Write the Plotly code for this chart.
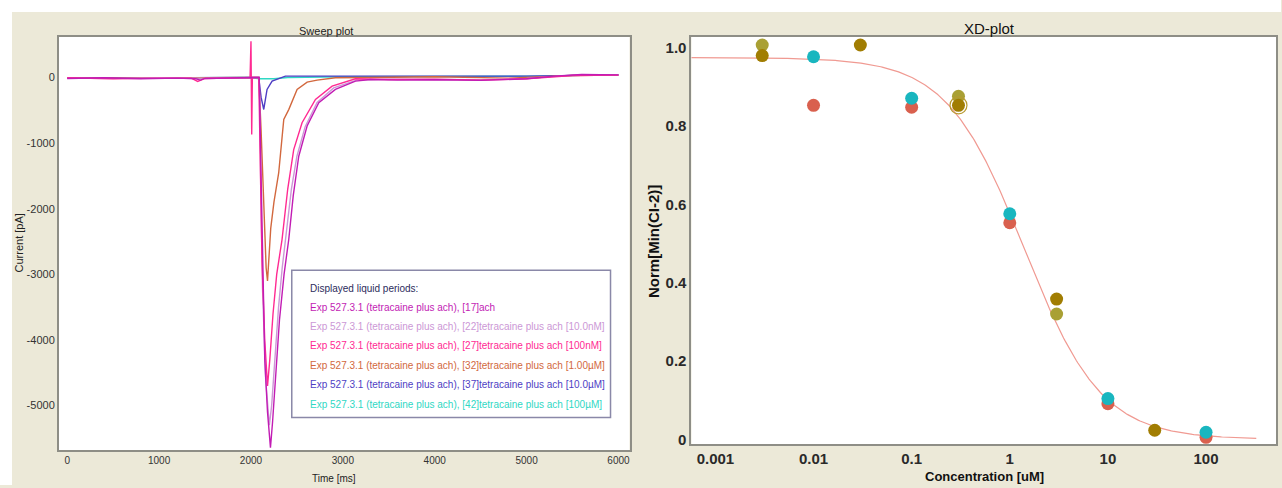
import numpy as np
import plotly.graph_objects as go

W, H = 1282, 488

# ---------------- Sweep plot data ----------------
sweep_labels = [
    "Exp 527.3.1 (tetracaine plus ach), [17]ach",
    "Exp 527.3.1 (tetracaine plus ach), [22]tetracaine plus ach [10.0nM]",
    "Exp 527.3.1 (tetracaine plus ach), [27]tetracaine plus ach [100nM]",
    "Exp 527.3.1 (tetracaine plus ach), [32]tetracaine plus ach [1.00µM]",
    "Exp 527.3.1 (tetracaine plus ach), [37]tetracaine plus ach [10.0µM]",
    "Exp 527.3.1 (tetracaine plus ach), [42]tetracaine plus ach [100µM]",
]
sweep_colors = ["#c21cb4", "#cc98d6", "#ff2a92", "#d2683e", "#4e3ec4", "#2fd8c4"]
legend_title = "Displayed liquid periods:"

t17 = [0, 400, 800, 1200, 1400, 1450, 1500, 1800, 2000, 2090, 2110, 2130, 2150, 2180, 2212,
       2235, 2270, 2310, 2360, 2411, 2460, 2520, 2611, 2738, 2919, 3137, 3300, 3600, 4000,
       4500, 5000, 5300, 5600, 6000]
i17 = [-15, -5, -20, -10, -20, -40, -15, -10, -5, 0, -1500, -3200, -4300, -5100, -5640,
       -5250, -4500, -3700, -3000, -2470, -1800, -1200, -740, -386, -183, -56, -30, -40, -35,
       -45, -20, 20, 45, 40]

t22 = [0, 500, 1000, 1400, 1500, 2000, 2090, 2105, 2125, 2160, 2200, 2225, 2260, 2300, 2340,
       2380, 2440, 2500, 2590, 2720, 2900, 3150, 3500, 4000, 4500, 5000, 5500, 6000]
i22 = [-10, -15, -5, -15, -10, 0, 0, -1500, -3200, -4600, -5300, -5000, -4300, -3500, -2900,
       -2400, -1700, -1200, -750, -380, -160, -40, -25, -30, -35, -15, 35, 40]

t27 = [0, 500, 1000, 1350, 1420, 1500, 1990, 2000, 2008, 2015, 2085, 2100, 2120, 2150, 2180,
       2205, 2240, 2280, 2338, 2400, 2465, 2556, 2702, 2883, 3137, 3500, 4000, 4500, 5000,
       5500, 6000]
i27 = [-5, -20, -10, -10, -60, -15, 0, 550, -870, 0, 0, -1200, -2800, -4000, -4700,
       -4300, -3600, -3000, -2470, -1700, -1100, -690, -335, -132, -20, -30, -25, -40, -20,
       30, 35]

t32 = [0, 500, 1000, 1500, 2000, 2085, 2110, 2140, 2165, 2180, 2200, 2215,
       2250, 2302, 2357, 2411, 2502, 2611, 2720, 2919, 3300, 4000, 4800, 5500, 6000]
i32 = [-10, -10, -15, -5, 0, 0, -800, -2000, -2900, -3100, -2700, -2300,
       -1900, -1450, -640, -490, -183, -71, -41, -5, 0, 10, -10, 30, 35]

t37 = [0, 1000, 2000, 2084, 2110, 2139, 2175, 2230, 2375, 3000, 4000, 5000, 6000]
i37 = [-10, -10, 0, 0, -300, -488, -183, -56, 20, 20, 10, 20, 40]

t42 = [0, 1000, 2000, 2090, 2250, 2400, 3000, 4000, 5000, 6000]
i42 = [-10, -5, 0, -20, -20, 0, 10, 15, 20, 40]

sweep_t = [t17, t22, t27, t32, t37, t42]
sweep_i = [i17, i22, i27, i32, i37, i42]
draw_order = [5, 4, 3, 1, 2, 0]

sweep_xticks = [0, 1000, 2000, 3000, 4000, 5000, 6000]
sweep_yticks = [0, -1000, -2000, -3000, -4000, -5000]

# ---------------- XD plot data ----------------
conc_red = [0.01, 0.1, 1, 10, 100]
norm_red = [0.853, 0.848, 0.553, 0.091, 0.005]
conc_cyan = [0.01, 0.1, 1, 10, 100]
norm_cyan = [0.977, 0.871, 0.576, 0.104, 0.018]
conc_olive = [0.003, 0.3, 3]
norm_olive = [1.007, 0.876, 0.320]
conc_gold = [0.003, 0.03, 0.3, 3, 30]
norm_gold = [0.980, 1.007, 0.853, 0.358, 0.023]
conc_ring = [0.3]
norm_ring = [0.853]

# Hill fit parameters shown by the curve
fit_top, fit_ic50, fit_hill = 0.975, 1.4, 1.1
fit_xmin, fit_xmax = 10 ** -3.25, 325

xd_xticks = [0.001, 0.01, 0.1, 1, 10, 100]
xd_xtext = ["0.001", "0.01", "0.1", "1", "10", "100"]
xd_yticks = [0, 0.2, 0.4, 0.6, 0.8, 1.0]
xd_ytext = ["0", "0.2", "0.4", "0.6", "0.8", "1.0"]

# ---------------- figure ----------------
BEIGE = "#ECE9D8"
BORDER = "#8e8e86"
NARROW = "Liberation Sans Narrow, Arial Narrow, Liberation Sans, sans-serif"
SANS = "Liberation Sans, Arial, sans-serif"


def px(x):
    return x / W


def py(y):
    return 1 - y / H


fig = go.Figure()

for k in draw_order:
    fig.add_trace(go.Scatter(x=sweep_t[k], y=sweep_i[k], mode="lines",
                             line=dict(color=sweep_colors[k], width=1.4),
                             xaxis="x", yaxis="y", showlegend=False, hoverinfo="skip"))

fx = np.logspace(np.log10(fit_xmin), np.log10(fit_xmax), 400)
fy = fit_top / (1 + (fx / fit_ic50) ** fit_hill)
fig.add_trace(go.Scatter(x=fx, y=fy, mode="lines", line=dict(color="#f09a92", width=1.2),
                         xaxis="x2", yaxis="y2", showlegend=False, hoverinfo="skip"))

for cx, cy, col in [(conc_red, norm_red, "#d9604e"),
                    (conc_cyan, norm_cyan, "#19b6bf"),
                    (conc_olive, norm_olive, "#a9a034"),
                    (conc_gold, norm_gold, "#a17d02")]:
    fig.add_trace(go.Scatter(x=cx, y=cy, mode="markers",
                             marker=dict(size=13, color=col, line=dict(width=0)),
                             xaxis="x2", yaxis="y2", showlegend=False, hoverinfo="skip"))
fig.add_trace(go.Scatter(x=conc_ring, y=norm_ring, mode="markers",
                         marker=dict(size=17, color="rgba(0,0,0,0)",
                                     line=dict(width=1.2, color="#b89a30")),
                         xaxis="x2", yaxis="y2", showlegend=False, hoverinfo="skip"))

axis_common = dict(showgrid=False, zeroline=False, showline=True, mirror=True,
                   linecolor=BORDER, linewidth=2, ticks="")

fig.update_layout(
    width=W, height=H, margin=dict(l=0, r=0, t=0, b=0),
    paper_bgcolor=BEIGE, plot_bgcolor="white",
    xaxis=dict(domain=[px(59), px(630)], anchor="y", range=[-90, 6120],
               tickvals=sweep_xticks, ticktext=[str(v) for v in sweep_xticks],
               tickfont=dict(family=NARROW, size=10, color="#333"), **axis_common),
    yaxis=dict(domain=[py(453), py(37)], anchor="x", range=[-5680, 620],
               tickvals=sweep_yticks, ticktext=[str(v) for v in sweep_yticks],
               tickfont=dict(family=NARROW, size=11, color="#333"), **axis_common),
    xaxis2=dict(domain=[px(692), px(1277)], anchor="y2", type="log",
                range=[-3.244, 2.713], tickvals=xd_xticks, ticktext=xd_xtext,
                tickfont=dict(family=SANS, size=15, color="#2a2a2a", weight="bold"),
                **axis_common),
    yaxis2=dict(domain=[py(447), py(37)], anchor="x2", range=[-0.0127, 1.028],
                tickvals=xd_yticks, ticktext=xd_ytext,
                tickfont=dict(family=SANS, size=15, color="#2a2a2a", weight="bold"),
                **axis_common),
)

shapes = [
    # white strips outside the beige window
    dict(type="rect", xref="paper", yref="paper", x0=0, x1=1, y0=py(12), y1=1,
         fillcolor="white", line=dict(width=0), layer="below"),
    dict(type="rect", xref="paper", yref="paper", x0=0, x1=px(12), y0=0, y1=1,
         fillcolor="white", line=dict(width=0), layer="below"),
    # legend box of sweep plot
    dict(type="rect", xref="paper", yref="paper", x0=px(292), x1=px(611), y0=py(420), y1=py(272),
         fillcolor="white", line=dict(width=1.5, color="#8a88a8"), layer="above"),
]
fig.update_layout(shapes=shapes)

ann = []
ann.append(dict(text="Sweep plot", x=px(326), y=py(31), xref="paper", yref="paper",
                xanchor="center", yanchor="middle",
                showarrow=False, font=dict(family=NARROW, size=11, color="#222")))
ann.append(dict(text="Current [pA]", x=px(19), y=py(244), xref="paper", yref="paper",
                xanchor="center", yanchor="middle",
                showarrow=False, textangle=-90, font=dict(family=NARROW, size=11, color="#222")))
ann.append(dict(text="Time [ms]", x=px(334), y=py(481), xref="paper", yref="paper",
                xanchor="center", yanchor="middle",
                showarrow=False, font=dict(family=NARROW, size=10, color="#222")))
ann.append(dict(text="XD-plot", x=px(990), y=py(29), xref="paper", yref="paper",
                xanchor="center", yanchor="middle",
                showarrow=False, font=dict(family=SANS, size=15, color="#111")))
ann.append(dict(text="Norm[Min(CI-2)]", x=px(654), y=py(243), xref="paper", yref="paper",
                xanchor="center", yanchor="middle",
                showarrow=False, textangle=-90,
                font=dict(family=SANS, size=15, color="#111", weight="bold")))
ann.append(dict(text="Concentration [uM]", x=px(985), y=py(479), xref="paper", yref="paper",
                xanchor="center", yanchor="middle",
                showarrow=False,
                font=dict(family=SANS, size=13, color="#111", weight="bold")))

ann.append(dict(text=legend_title, x=px(308), y=py(290), xref="paper", yref="paper",
                xanchor="left", yanchor="middle", showarrow=False,
                font=dict(family=NARROW, size=10, color="#2c2c5c")))
for k, (lab, col) in enumerate(zip(sweep_labels, sweep_colors)):
    ann.append(dict(text=lab, x=px(308), y=py(309 + 19.5 * k), xref="paper", yref="paper",
                    xanchor="left", yanchor="middle", showarrow=False,
                    font=dict(family=NARROW, size=10, color=col)))
fig.update_layout(annotations=ann)

fig.write_html("out.html", config={"displayModeBar": False},
               post_script="document.body.style.margin='0';"
                           "document.documentElement.style.overflow='hidden';")
